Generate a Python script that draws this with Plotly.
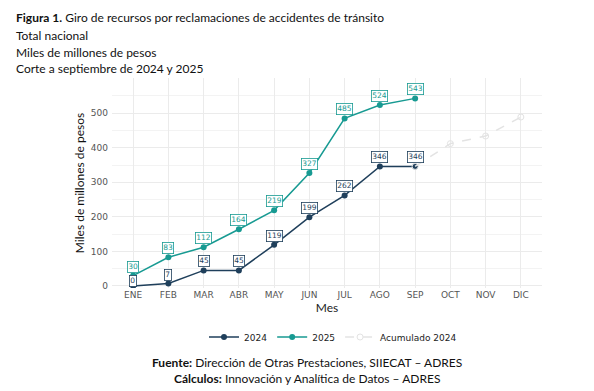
import plotly.graph_objects as go

meses = ["ENE", "FEB", "MAR", "ABR", "MAY", "JUN", "JUL", "AGO", "SEP", "OCT", "NOV", "DIC"]
meses_obs = ["ENE", "FEB", "MAR", "ABR", "MAY", "JUN", "JUL", "AGO", "SEP"]
v2024 = [0, 7, 45, 45, 119, 199, 262, 346, 346]
v2025 = [30, 83, 112, 164, 219, 327, 485, 524, 543]
meses_acum = ["SEP", "OCT", "NOV", "DIC"]
acum2024 = [346, 412, 434, 489]

titulo = ["<b>Figura 1.</b> Giro de recursos por reclamaciones de accidentes de tránsito",
          "Total nacional", "Miles de millones de pesos", "Corte a septiembre de 2024 y 2025"]
fuentes = ["<b>Fuente:</b> Dirección de Otras Prestaciones, SIIECAT – ADRES",
           "<b>Cálculos:</b> Innovación y Analítica de Datos – ADRES"]

C24 = "#1f3f5b"
C25 = "#179a92"
CAC = "#e3e3e3"

# The page body has an 8px default margin, so the figure is drawn 8px in
# from the top-left corner of the window; all pixel targets below are
# window pixels and are converted.
OFF = 8
W, H = 594 - OFF, 391 - OFF
ML, MT = 112 - OFF, 78 - OFF
MR = W - (542 - OFF)
MB = H - (288 - OFF)
PW, PH = W - ML - MR, H - MT - MB


def px_to_paper(x, y_top):
    return (x - OFF - ML) / PW, (H - (y_top - OFF) - MB) / PH


fig = go.Figure()
fig.add_trace(go.Scatter(x=meses_obs, y=v2024, mode="lines+markers", name="2024",
                         line=dict(color=C24, width=1.5), marker=dict(color=C24, size=6)))
fig.add_trace(go.Scatter(x=meses_obs, y=v2025, mode="lines+markers", name="2025",
                         line=dict(color=C25, width=1.5), marker=dict(color=C25, size=6)))
fig.add_trace(go.Scatter(x=meses_acum, y=acum2024, mode="lines+markers", name="Acumulado 2024",
                         line=dict(color=CAC, width=1.5, dash="dash"),
                         marker=dict(color="rgba(255,255,255,0)", size=6,
                                     line=dict(color=CAC, width=1))))

for serie, color in ((v2024, C24), (v2025, C25)):
    for m, v in zip(meses_obs, serie):
        fig.add_annotation(x=m, y=v, xref="x", yref="y", text=str(v), showarrow=False,
                           yshift=9 if v > 0 else 5,
                           font=dict(family="DejaVu Sans", size=7.5, color=color),
                           bgcolor="white", bordercolor=color, borderwidth=0.8, borderpad=0.5)

for i, t in enumerate(titulo):
    xx, yy = px_to_paper(14, 18 + 17 * i)
    fig.add_annotation(x=xx, y=yy, xref="paper", yref="paper", text=t,
                       showarrow=False, xanchor="left", yanchor="middle",
                       font=dict(family="Lato", size=12, color="#111"))

for i, t in enumerate(fuentes):
    xx, yy = px_to_paper(307, 362 + 16 * i)
    fig.add_annotation(x=xx, y=yy, xref="paper", yref="paper", text=t,
                       showarrow=False, xanchor="center", yanchor="middle",
                       font=dict(family="Lato", size=12, color="#111"))

lx, ly = px_to_paper(333, 337)
fig.update_layout(
    width=W, height=H,
    margin=dict(l=ML, r=MR, t=MT, b=MB, autoexpand=False),
    paper_bgcolor="white", plot_bgcolor="white",
    font=dict(family="Lato", color="#222"),
    showlegend=True,
    legend=dict(orientation="h", x=lx, xanchor="center", y=ly, yanchor="middle",
                font=dict(family="DejaVu Sans", size=9, color="#222"),
                itemwidth=30),
    xaxis=dict(categoryorder="array", categoryarray=meses, range=[-0.6, 11.6],
               showgrid=True, gridcolor="#ebebeb", gridwidth=1, zeroline=False, automargin=False,
               ticks="", tickfont=dict(family="DejaVu Sans", size=9, color="#555"),
               title=dict(text="Mes", font=dict(family="Lato", size=12, color="#222"), standoff=2)),
    yaxis=dict(range=[-6, 602], tickvals=[0, 100, 200, 300, 400, 500], automargin=False,
               showgrid=True, gridcolor="#ebebeb", gridwidth=1, zeroline=False,
               minor=dict(tickvals=[50, 150, 250, 350, 450, 550], showgrid=True,
                          gridcolor="#f3f3f3", gridwidth=1),
               ticks="", ticklabelstandoff=3,
               tickfont=dict(family="DejaVu Sans", size=9, color="#555"),
               title=dict(text="Miles de millones de pesos",
                          font=dict(family="Lato", size=12, color="#111"), standoff=3)),
)

fig.write_html("out.html")
